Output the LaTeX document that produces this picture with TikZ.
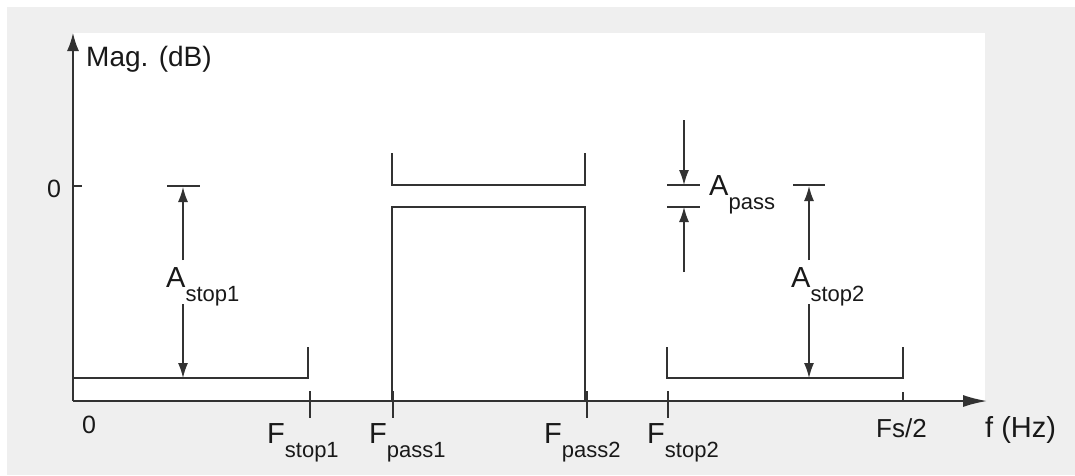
\documentclass[tikz,border=0pt]{standalone}
\usepackage{fontspec}
\setmainfont{Liberation Sans}
\usetikzlibrary{arrows.meta}
\definecolor{panelgray}{RGB}{239,239,239}
\definecolor{linegray}{RGB}{50,50,50}
\definecolor{textgray}{RGB}{25,25,25}
\tikzstyle{specline} = [line width=1.6pt,color=linegray]
\tikzstyle{axis} = [line width=1.6pt,color=linegray]
\tikzstyle{dimarrow} = [line width=1.4pt,color=linegray,-{Latex[length=15pt,width=10pt]}]
\tikzstyle{lbl} = [inner sep=0pt,anchor=base west,text=textgray]
% letter with a dropped subscript
\newcommand{\speclbl}[2]{{\fontsize{29}{31}\selectfont #1}\raisebox{-14pt}{\fontsize{22}{24}\selectfont #2}}

\begin{document}
\begin{tikzpicture}[x=1pt,y=-1pt]
% Panel
\useasboundingbox (0,0) rectangle (1075,475);
\fill[white] (0,0) rectangle (1075,475);
\fill[panelgray] (7,7) rectangle (1075,475);
\fill[white] (73,33) rectangle (985,401);

% Axes
\coordinate (origin) at (73,401);
\coordinate (ytop) at (73,33);
\coordinate (xend) at (987,401);
\draw[axis,-{Latex[length=18pt,width=12pt]}] (origin) -- (ytop);
\draw[axis,-{Latex[length=24pt,width=12pt]}] (origin) -- (xend);
\draw[axis] (73,186) -- (82,186);
\foreach \x in {310,393,587,668}
  \draw[axis] (\x,391) -- (\x,418);
\draw[axis] (903,392) -- (903,401);

% Stopband 1
\draw[specline] (73,347) -- (73,378) -- (308,378) -- (308,347);
% Passband
\draw[specline] (392,153) -- (392,185) -- (585,185) -- (585,153);
\draw[specline] (392,401) -- (392,207) -- (585,207) -- (585,401);
% Stopband 2
\draw[specline] (667,347) -- (667,378) -- (903,378) -- (903,347);

% Dimension bars
\draw[specline] (167,186) -- (200,186);
\draw[specline] (667,185) -- (700,185);
\draw[specline] (667,207) -- (700,207);
\draw[specline] (793,185) -- (825,185);

% Attenuation arrows
\node[lbl] (astop1) at (166,287) {\speclbl{A}{stop1}};
\coordinate (as1top) at (183,187);
\coordinate (as1bot) at (183,378);
\coordinate (as1a) at (183,260);
\coordinate (as1b) at (183,304);
\draw[dimarrow] (as1a) -- (as1top);
\draw[dimarrow] (as1b) -- (as1bot);

\node[lbl] (apass) at (709,195) {\speclbl{A}{pass}};
\coordinate (apin) at (684,120);
\coordinate (aptop) at (684,185);
\coordinate (apbot) at (684,207);
\coordinate (apout) at (684,272);
\draw[dimarrow] (apin) -- (aptop);
\draw[dimarrow] (apout) -- (apbot);

\node[lbl] (astop2) at (791,287) {\speclbl{A}{stop2}};
\coordinate (as2top) at (809,186);
\coordinate (as2bot) at (809,378);
\coordinate (as2a) at (809,260);
\coordinate (as2b) at (809,304);
\draw[dimarrow] (as2a) -- (as2top);
\draw[dimarrow] (as2b) -- (as2bot);

% Frequency labels
\node[lbl] (fstop1) at (267,443) {\speclbl{F}{stop1}};
\node[lbl] (fpass1) at (369,443) {\speclbl{F}{pass1}};
\node[lbl] (fpass2) at (544,443) {\speclbl{F}{pass2}};
\node[lbl] (fstop2) at (647,443) {\speclbl{F}{stop2}};
\node[lbl,font=\fontsize{26}{28}\selectfont] (fsh) at (876,437) {Fs/2};
\node[lbl,font=\fontsize{25}{27}\selectfont] (xzero) at (82,433) {0};

% Axis titles
\node[lbl,font=\fontsize{28}{30}\selectfont] (ylab) at (86,66) {Mag. (dB)};
\node[lbl,font=\fontsize{29}{31}\selectfont] (xlab) at (985,437) {f (Hz)};
\node[lbl,font=\fontsize{25}{27}\selectfont] (yzero) at (47,197) {0};
\end{tikzpicture}
\end{document}
